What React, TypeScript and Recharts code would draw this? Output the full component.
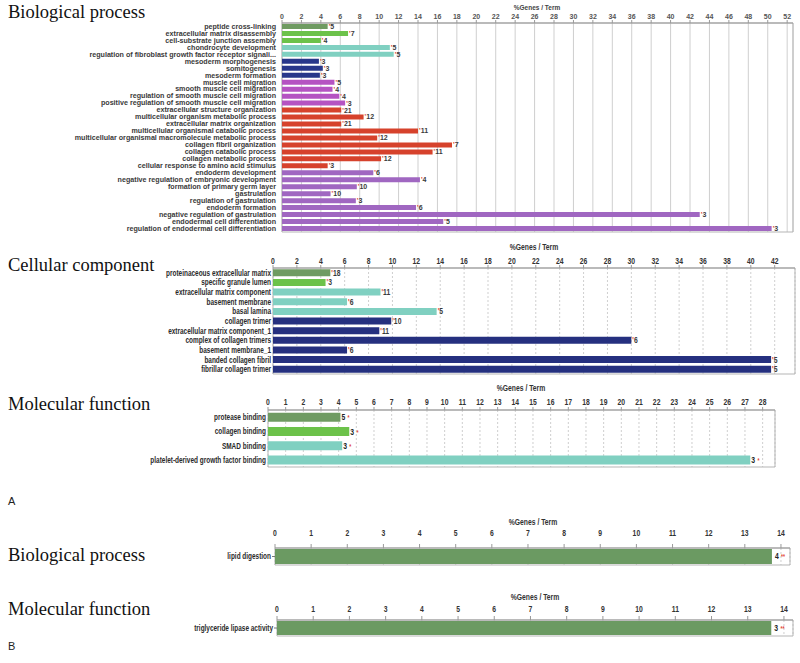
import React from 'react';
import { Bar, BarChart, CartesianGrid, Cell, LabelList, ReferenceArea, XAxis, YAxis } from 'recharts';

// A - Biological process
const BP_TERMS = [
  'peptide cross-linking',
  'extracellular matrix disassembly',
  'cell-substrate junction assembly',
  'chondrocyte development',
  'regulation of fibroblast growth factor receptor signali...',
  'mesoderm morphogenesis',
  'somitogenesis',
  'mesoderm formation',
  'muscle cell migration',
  'smooth muscle cell migration',
  'regulation of smooth muscle cell migration',
  'positive regulation of smooth muscle cell migration',
  'extracellular structure organization',
  'multicellular organism metabolic process',
  'extracellular matrix organization',
  'multicellular organismal catabolic process',
  'multicellular organismal macromolecule metabolic process',
  'collagen fibril organization',
  'collagen catabolic process',
  'collagen metabolic process',
  'cellular response to amino acid stimulus',
  'endoderm development',
  'negative regulation of embryonic development',
  'formation of primary germ layer',
  'gastrulation',
  'regulation of gastrulation',
  'endoderm formation',
  'negative regulation of gastrulation',
  'endodermal cell differentiation',
  'regulation of endodermal cell differentiation',
];
const BP_PERCENT = [4.7, 6.8, 4.0, 11.1, 11.5, 3.8, 4.2, 3.9, 5.4, 5.2, 5.9, 6.5, 6.1, 8.4, 6.1, 14.0, 9.8, 17.5, 15.5, 10.2, 4.7, 9.4, 14.2, 7.7, 5.0, 7.6, 13.8, 43.0, 16.6, 50.4];
const BP_GENES = [5, 7, 4, 5, 5, 3, 3, 3, 5, 4, 4, 3, 21, 12, 21, 11, 12, 7, 11, 12, 3, 6, 4, 10, 10, 3, 6, 3, 5, 3];
const BP_GROUP = [0, 1, 1, 2, 2, 3, 3, 3, 4, 4, 4, 4, 5, 5, 5, 5, 5, 5, 5, 5, 5, 6, 6, 6, 6, 6, 6, 6, 6, 6];
const BP_TICKS = [0, 2, 4, 6, 8, 10, 12, 14, 16, 18, 20, 22, 24, 26, 28, 30, 32, 34, 36, 38, 40, 42, 44, 46, 48, 50, 52];

// A - Cellular component
const CC_TERMS = [
  'proteinaceous extracellular matrix',
  'specific granule lumen',
  'extracellular matrix component',
  'basement membrane',
  'basal lamina',
  'collagen trimer',
  'extracellular matrix component_1',
  'complex of collagen trimers',
  'basement membrane_1',
  'banded collagen fibril',
  'fibrillar collagen trimer',
];
const CC_PERCENT = [4.8, 4.4, 9.0, 6.2, 13.7, 9.9, 8.9, 30.0, 6.2, 41.7, 41.7];
const CC_GENES = [18, 3, 11, 6, 5, 10, 11, 6, 6, 5, 5];
const CC_GROUP = [0, 1, 2, 2, 2, 3, 3, 3, 3, 3, 3];
const CC_TICKS = [0, 2, 4, 6, 8, 10, 12, 14, 16, 18, 20, 22, 24, 26, 28, 30, 32, 34, 36, 38, 40, 42];

// A - Molecular function
const MF_TERMS = ['protease binding', 'collagen binding', 'SMAD binding', 'platelet-derived growth factor binding'];
const MF_PERCENT = [4.1, 4.6, 4.2, 27.3];
const MF_GENES = [5, 3, 3, 3];
const MF_GROUP = [0, 1, 2, 2];
const MF_TICKS = [0, 1, 2, 3, 4, 5, 6, 7, 8, 9, 10, 11, 12, 13, 14, 15, 16, 17, 18, 19, 20, 21, 22, 23, 24, 25, 26, 27, 28];

// B
const B_BP_TERMS = ['lipid digestion'];
const B_BP_PERCENT = [13.75];
const B_BP_GENES = [4];
const B_MF_TERMS = ['triglyceride lipase activity'];
const B_MF_PERCENT = [13.65];
const B_MF_GENES = [3];
const B_GROUP = [0];
const B_TICKS = [0, 1, 2, 3, 4, 5, 6, 7, 8, 9, 10, 11, 12, 13, 14];

const PALETTE = ['#6f9b62', '#6cc24a', '#80d0c1', '#28378a', '#b553c2', '#d6422c', '#a067c1'];
const CC_PALETTE = ['#6f9b62', '#6cc24a', '#80d0c1', '#25307f'];
const B_PALETTE = ['#6b9a62'];

const ARIAL = "'Liberation Sans', Arial, sans-serif";
const SERIF = "'Liberation Serif', 'Times New Roman', serif";

type Row = { term: string; pct: number; genes: number; group: number };
type TextStyle = { fontSize: number; fill: string; sx: number };

const toRows = (terms: string[], pct: number[], genes: number[], group: number[]): Row[] =>
  terms.map((term, i) => ({ term, pct: pct[i], genes: genes[i], group: group[i] }));

// single-line, horizontally scaled tick text (the original uses a condensed face)
const squeezedTick = (s: TextStyle, anchor: 'end' | 'middle') => (props: any) => {
  const { x, y, payload } = props;
  return (
    <text
      transform={`translate(${x},${y}) scale(${s.sx},1)`}
      textAnchor={anchor}
      dy={anchor === 'end' ? '0.35em' : 0}
      fontSize={s.fontSize}
      fontWeight={700}
      fontFamily={ARIAL}
      fill={s.fill}
    >
      {payload.value}
    </text>
  );
};

// red significance mark before the gene count
const preLabel = (fontSize: number, sx: number) => (props: any) => {
  const x = Number(props.x) + Number(props.width);
  const y = Number(props.y) + Number(props.height) / 2;
  return (
    <text transform={`translate(${x + 1},${y}) scale(${sx},1)`} dy="0.35em" fontSize={fontSize} fontWeight={700} fontFamily={ARIAL}>
      <tspan fill="#e03a2e">'</tspan>
      <tspan fill="#3a3a3a">{props.value}</tspan>
    </text>
  );
};

// gene count followed by red asterisk(s)
const postLabel = (fontSize: number, stars: string, gap: number) => (props: any) => {
  const x = Number(props.x) + Number(props.width);
  const y = Number(props.y) + Number(props.height) / 2;
  return (
    <text transform={`translate(${x + gap},${y}) scale(0.8,1)`} dy="0.35em" fontSize={fontSize} fontWeight={700} fontFamily={ARIAL}>
      <tspan fill="#222">{props.value}</tspan>
      <tspan fill="#e03a2e" dx={3} fontSize={fontSize - 2}>{stars}</tspan>
    </text>
  );
};

interface PanelProps {
  rows: Row[];
  colors: string[];
  top: number;
  height: number;
  axisHeight: number;
  bottom: number;
  plotLeft: number;
  plotRight: number;
  domainMax: number;
  ticks: number[];
  xText: TextStyle;
  yText: TextStyle;
  yGap: number;
  yTickLine?: boolean;
  tickSize: number;
  tickMargin: number;
  gap: string | number;
  dashed: boolean;
  label: (props: any) => React.ReactElement;
}

function GoPanel(p: PanelProps) {
  return (
    <div style={{ position: 'absolute', left: 0, top: p.top, width: 800, height: p.height }}>
      <BarChart
        width={800}
        height={p.height}
        data={p.rows}
        layout="vertical"
        margin={{ top: 0, right: 800 - p.plotRight, bottom: p.bottom, left: 0 }}
        barCategoryGap={p.gap}
      >
        <CartesianGrid horizontal={false} stroke="#cfcfcf" strokeDasharray={p.dashed ? '2 2' : undefined} />
        <XAxis
          type="number"
          orientation="top"
          domain={[0, p.domainMax]}
          ticks={p.ticks}
          interval={0}
          height={p.axisHeight}
          tick={squeezedTick(p.xText, 'middle')}
          tickSize={p.tickSize}
          tickMargin={p.tickMargin}
          stroke="#9a9a9a"
          allowDataOverflow
        />
        <YAxis
          type="category"
          dataKey="term"
          width={p.plotLeft}
          interval={0}
          tickLine={p.yTickLine ? { stroke: '#777' } : false}
          axisLine={false}
          tickSize={p.yTickLine ? 3 : 0}
          tickMargin={p.yGap}
          tick={squeezedTick(p.yText, 'end')}
        />
        <Bar dataKey="pct" isAnimationActive={false}>
          {p.rows.map((r, i) => (
            <Cell key={`c-${i}`} fill={p.colors[r.group]} />
          ))}
          <LabelList dataKey="genes" content={p.label} />
        </Bar>
        <ReferenceArea x1={0} x2={p.domainMax} fill="none" stroke="#b5b5b5" ifOverflow="visible" />
      </BarChart>
    </div>
  );
}

export default function App() {
  const narrowY: TextStyle = { fontSize: 8.5, fill: '#2a2a2a', sx: 0.76 };
  const narrowX: TextStyle = { fontSize: 8.5, fill: '#333', sx: 0.8 };
  return (
    <div style={{ position: 'absolute', left: 0, top: 0, width: 800, height: 663, background: '#fff' }}>
      <GoPanel
        rows={toRows(BP_TERMS, BP_PERCENT, BP_GENES, BP_GROUP)}
        colors={PALETTE}
        top={0}
        height={240}
        axisHeight={23}
        bottom={8}
        plotLeft={282}
        plotRight={793}
        domainMax={52.6}
        ticks={BP_TICKS}
        xText={{ fontSize: 7, fill: '#555', sx: 1 }}
        yText={{ fontSize: 6.5, fill: '#3a3a3a', sx: 1.1 }}
        yGap={6}
        tickSize={3}
        tickMargin={1}
        gap="14%"
        dashed={false}
        label={preLabel(7, 1)}
      />
      <GoPanel
        rows={toRows(CC_TERMS, CC_PERCENT, CC_GENES, CC_GROUP)}
        colors={CC_PALETTE}
        top={250}
        height={130}
        axisHeight={18}
        bottom={6}
        plotLeft={273}
        plotRight={795}
        domainMax={43.7}
        ticks={CC_TICKS}
        xText={narrowX}
        yText={narrowY}
        yGap={2}
        tickSize={3}
        tickMargin={1}
        gap="14%"
        dashed
        label={preLabel(8.5, 0.8)}
      />
      <GoPanel
        rows={toRows(MF_TERMS, MF_PERCENT, MF_GENES, MF_GROUP)}
        colors={PALETTE}
        top={392}
        height={80}
        axisHeight={18}
        bottom={5}
        plotLeft={268}
        plotRight={775}
        domainMax={28.7}
        ticks={MF_TICKS}
        xText={narrowX}
        yText={narrowY}
        yGap={2}
        tickSize={3}
        tickMargin={2}
        gap="20%"
        dashed
        label={postLabel(8.5, '*', 1)}
      />
      <GoPanel
        rows={toRows(B_BP_TERMS, B_BP_PERCENT, B_BP_GENES, B_GROUP)}
        colors={B_PALETTE}
        top={525}
        height={45}
        axisHeight={23}
        bottom={5}
        plotLeft={275}
        plotRight={790}
        domainMax={14.25}
        ticks={B_TICKS}
        xText={narrowX}
        yText={narrowY}
        yGap={1}
        yTickLine
        tickSize={4}
        tickMargin={8}
        gap={1}
        dashed
        label={postLabel(8.5, '**', 3)}
      />
      <GoPanel
        rows={toRows(B_MF_TERMS, B_MF_PERCENT, B_MF_GENES, B_GROUP)}
        colors={B_PALETTE}
        top={600}
        height={40}
        axisHeight={20}
        bottom={4}
        plotLeft={277}
        plotRight={793}
        domainMax={14.25}
        ticks={B_TICKS}
        xText={narrowX}
        yText={narrowY}
        yGap={1}
        yTickLine
        tickSize={4}
        tickMargin={4}
        gap={1}
        dashed
        label={postLabel(8.5, '**', 3)}
      />
      <svg width={800} height={663} style={{ position: 'absolute', left: 0, top: 0, pointerEvents: 'none' }}>
        <g fontFamily={SERIF} fontSize={18.5} fill="#111">
          <text x={8} y={18}>Biological process</text>
          <text x={8} y={271}>Cellular component</text>
          <text x={8} y={410}>Molecular function</text>
          <text x={8} y={561}>Biological process</text>
          <text x={8} y={615}>Molecular function</text>
        </g>
        <g fontFamily={ARIAL} fontSize={11} fill="#222">
          <text x={8} y={505}>A</text>
          <text x={8} y={650}>B</text>
        </g>
        <text x={537} y={10} textAnchor="middle" fontFamily={ARIAL} fontSize={6.5} fontWeight={700} fill="#444">%Genes / Term</text>
        <g fontFamily={ARIAL} fontSize={8.5} fontWeight={700} fill="#333" textAnchor="middle">
          <text transform="translate(534,250) scale(0.8,1)">%Genes / Term</text>
          <text transform="translate(521,391) scale(0.8,1)">%Genes / Term</text>
          <text transform="translate(533,525) scale(0.8,1)">%Genes / Term</text>
          <text transform="translate(535,600) scale(0.8,1)">%Genes / Term</text>
        </g>
      </svg>
    </div>
  );
}
